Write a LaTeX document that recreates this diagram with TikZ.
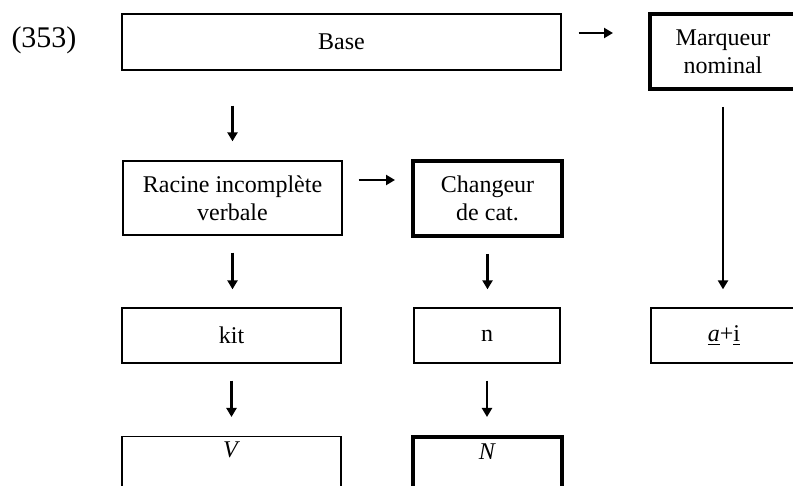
\documentclass[tikz,border=0pt]{standalone}
\usepackage{fontspec}
\setmainfont{Liberation Serif}
\usetikzlibrary{arrows.meta,calc}
\begin{document}
\begin{tikzpicture}[x=0.5pt,y=-0.5pt,
  box/.style={draw, line width=0.65pt, inner sep=0pt, align=center, font=\fontsize{12}{14}\selectfont},
  thickbox/.style={box, line width=2pt},
  arr/.style={line width=1.3pt, -{Triangle[length=4.5pt,width=5pt]}}]
\useasboundingbox (0,0) rectangle (793,486);
\node[font=\fontsize{15}{18}\selectfont, inner sep=0pt] (lab) at (44,40) {(353)};
\node[box, minimum width=219.5pt, minimum height=28pt] (Base) at (341.5,42) {Base};
\node[thickbox, minimum width=73pt, minimum height=37.5pt] (Marq) at (723,51.5) {Marqueur\\nominal};
\node[box, minimum width=109.5pt, minimum height=37pt] (Racine) at (232.5,198) {Racine incomplète\\verbale};
\node[thickbox, minimum width=74.5pt, minimum height=37.5pt] (Chg) at (487.5,198.5) {Changeur\\de cat.};
\node[box, minimum width=109.5pt, minimum height=27.5pt] (kit) at (231.5,335.5) {kit};
\node[box, minimum width=73pt, minimum height=27.5pt] (n) at (487,335.5) {n};
\node[box, minimum width=73pt, minimum height=27.5pt] (ai) at (724,335.5) {\underline{\textit{a}}+\underline{i}};
\node[box, anchor=north, minimum width=109.5pt, text height=10.5pt, text depth=40pt] (V) at (231.5,436) {\textit{V}};
\node[thickbox, anchor=north, minimum width=74.5pt, text height=11pt, text depth=40pt] (N) at (487.5,435) {\textit{N}};
\draw[arr] ($(Base.east)+(17,-9)$) -- ($(Marq.west |- Base.east)+(-35,-9)$);
\draw[arr] ($(Racine.north |- Base.south)+(0,35)$) -- ($(Racine.north)+(0,-19)$);
\draw[arr] ($(Racine.east)+(16,-18)$) -- ($(Chg.west |- Racine.east)+(-16,-18)$);
\draw[arr] ($(Racine.south)+(0,17)$) -- ($(Racine.south |- kit.north)+(0,-18)$);
\draw[arr] ($(Chg.south)+(0,16)$) -- ($(Chg.south |- n.north)+(0,-18)$);
\draw[arr] ($(Marq.south)+(0,16)$) -- ($(Marq.south |- ai.north)+(0,-18)$);
\draw[arr] ($(kit.south)+(0,17)$) -- ($(kit.south |- V.north)+(0,-19)$);
\draw[arr] ($(n.south)+(0,17)$) -- ($(n.south |- N.north)+(0,-18)$);
\end{tikzpicture}
\end{document}
